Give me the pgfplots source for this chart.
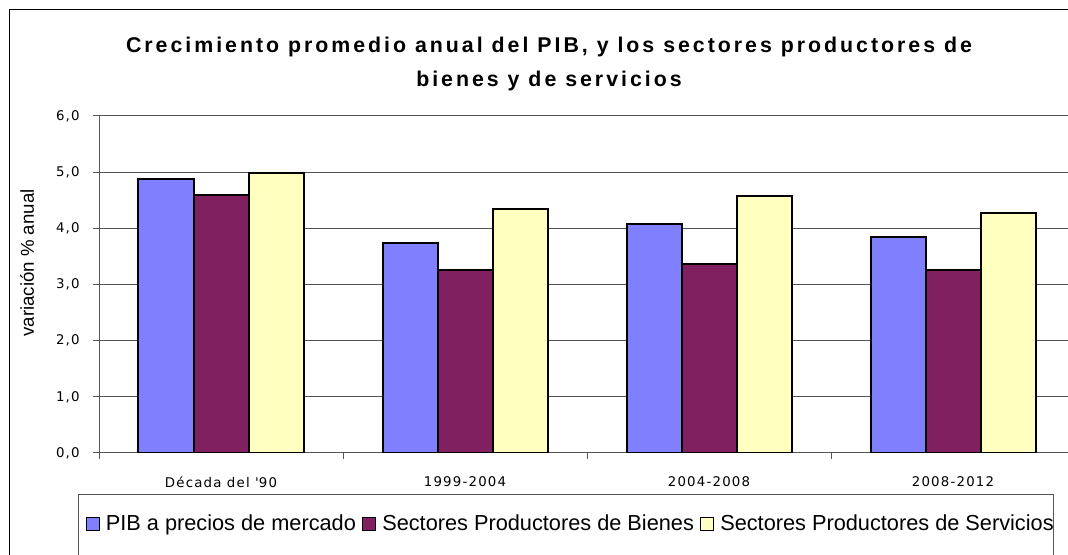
\documentclass[border=0pt]{standalone}
\usepackage{fontspec}
\setmainfont{Liberation Sans}
\newfontfamily\tickfont[LetterSpace=9]{DejaVu Sans}
\newfontfamily\titlefont[LetterSpace=14]{Liberation Sans}
\usepackage{pgfplots}
\pgfplotsset{compat=1.18}
\definecolor{pib}{HTML}{8080FF}
\definecolor{bienes}{HTML}{802060}
\definecolor{servicios}{HTML}{FFFFC0}
\definecolor{gridgray}{HTML}{555555}

\begin{document}
\begin{tikzpicture}
\useasboundingbox (0pt,0pt) rectangle (801pt,-416.25pt);
\clip (0pt,0pt) rectangle (801pt,-416.25pt);
\begin{axis}[
    at={(74.25pt,-339.75pt)}, anchor=south west,
    scale only axis,
    width=732pt, height=252.75pt,
    ybar=0pt, bar width=41.25pt,
    xmin=-0.5, xmax=3.5, ymin=0, ymax=6,
    xtick={0,1,2,3},
    xticklabels={Década del \textquotesingle 90, 1999-2004, 2004-2008, 2008-2012},
    minor xtick={-0.5,0.5,1.5,2.5,3.5},
    ytick={0,1,...,6},
    axis x line*=bottom, axis y line*=left,
    tick align=outside,
    major tick length=4.5pt, minor tick length=4.5pt,
    major x tick style={draw=none},
    minor x tick style={gridgray, line width=0.75pt},
    ytick style={gridgray, line width=0.75pt},
    ymajorgrids,
    grid style={gridgray, line width=0.75pt},
    axis line style={gridgray, line width=0.75pt},
    every axis plot/.append style={draw=black, line width=1.5pt},
    xticklabel style={font=\tickfont\fontsize{10}{12}\selectfont, yshift=-9.75pt},
    yticklabel style={font=\tickfont\fontsize{10}{12}\selectfont, xshift=-6.5pt,
        /pgf/number format/.cd, fixed, fixed zerofill, precision=1, use comma, assume math mode=true},
    legend columns=-1,
    legend style={at={(axis description cs:-0.0202,-0.2107)}, anchor=west,
        draw=none, fill=none, inner sep=0pt,
        font=\fontsize{16.3}{18}\selectfont,
        nodes={inner xsep=0pt},
        column sep=0pt},
    legend image code/.code={
        \path[draw=none, fill=none] (-5pt,0pt) -- (14.75pt,0pt);
        \draw[#1, draw=black, line width=0.9pt] (0pt,-4.9pt) rectangle (9.75pt,4.9pt);},
]
\addplot[fill=pib] coordinates {(0,4.88) (1,3.74) (2,4.07) (3,3.85)};
\addlegendentry{PIB a precios de mercado}
\addplot[fill=bienes] coordinates {(0,4.60) (1,3.26) (2,3.36) (3,3.25)};
\addlegendentry{Sectores Productores de Bienes}
\addplot[fill=servicios] coordinates {(0,4.99) (1,4.35) (2,4.57) (3,4.28)};
\addlegendentry{Sectores Productores de Servicios}
\end{axis}
% legend frame and outer chart frame
\draw[gridgray, line width=0.75pt] (58.5pt,-371.25pt) rectangle (789.75pt,-450pt);
\draw[black, line width=0.75pt] (6.75pt,-450pt) -- (6.75pt,-7.5pt) -- (820pt,-7.5pt);
\node[align=center, font=\titlefont\bfseries\fontsize{16}{25.5}\selectfont]
    at (411.75pt,-48pt) {Crecimiento promedio anual del PIB, y los sectores productores de\\bienes y de servicios};
\node[rotate=90, font=\fontsize{14}{16}\selectfont] at (20.25pt,-197.25pt) {variación \% anual};
\end{tikzpicture}
\end{document}
